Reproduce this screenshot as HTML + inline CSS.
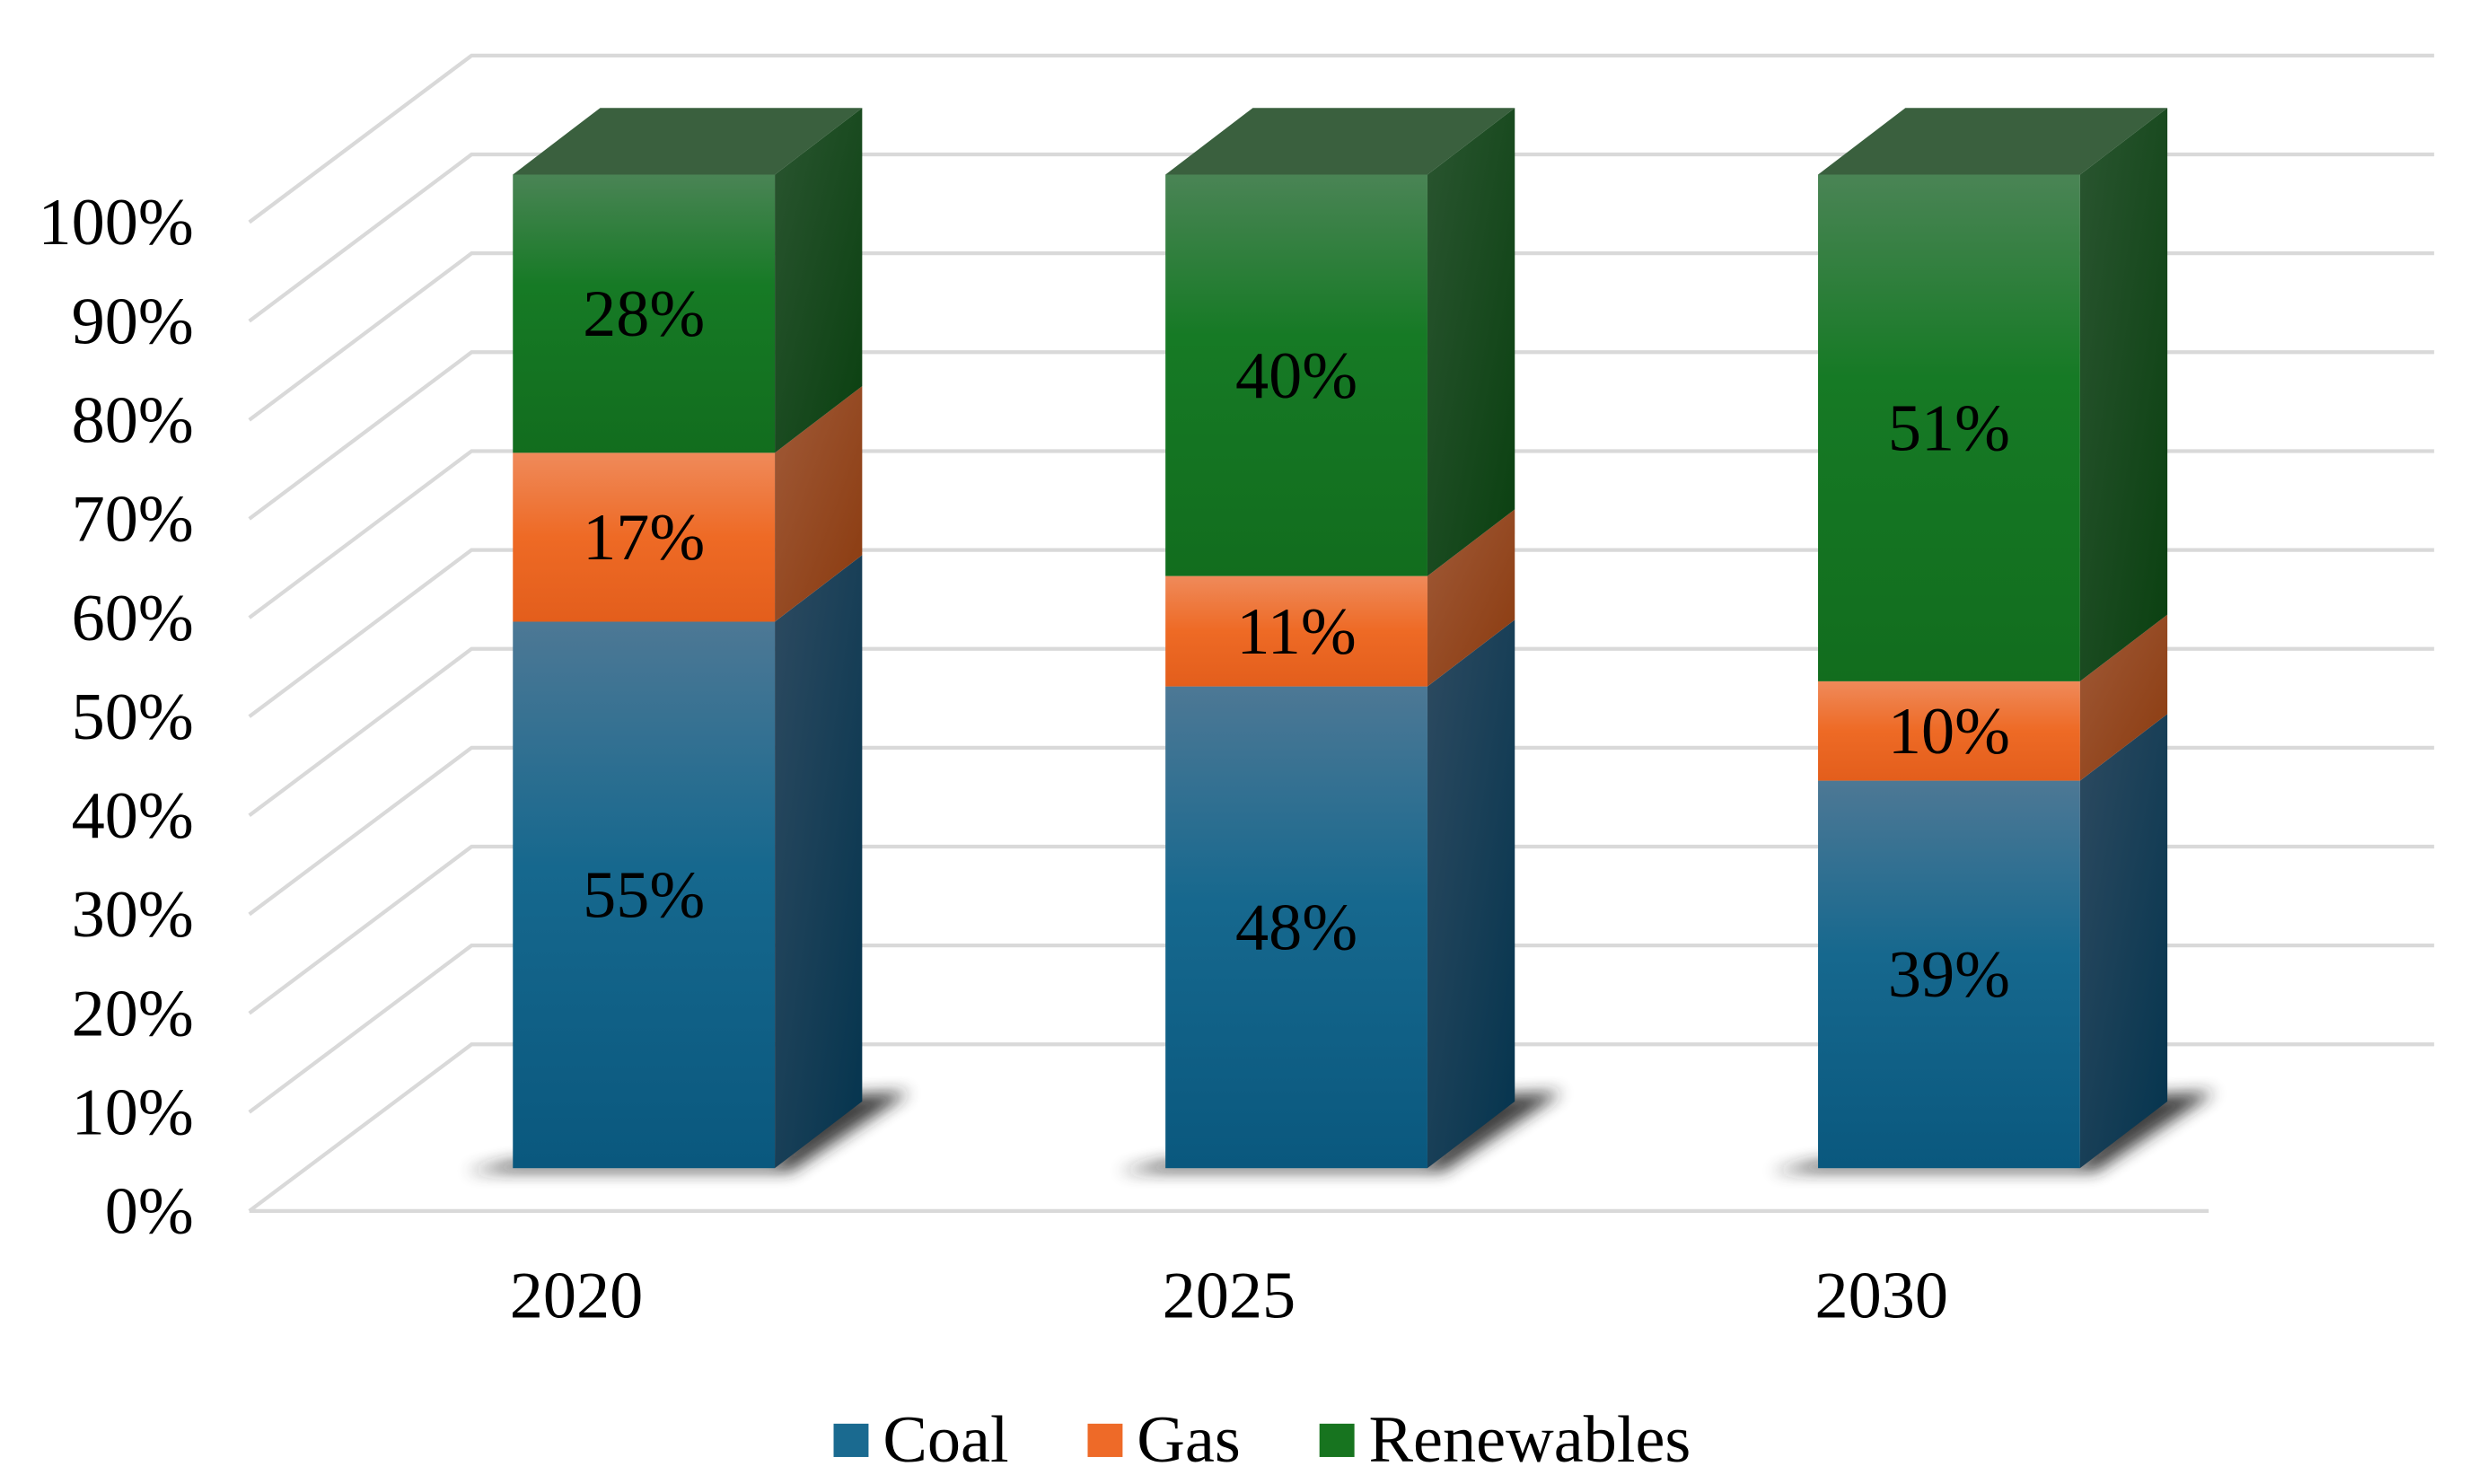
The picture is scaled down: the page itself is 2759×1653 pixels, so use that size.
<!DOCTYPE html>
<html><head><meta charset="utf-8"><style>
html,body{margin:0;padding:0;background:#fff;}
svg{display:block;}
text{font-family:"Liberation Serif",serif;fill:#000;}
</style></head><body>
<svg id="chart" width="2759" height="1653" viewBox="0 0 1560 935" preserveAspectRatio="none" xmlns="http://www.w3.org/2000/svg">
<defs>
<linearGradient id="coalF" x1="0" y1="0" x2="0" y2="1"><stop offset="0" stop-color="#4d7895"/><stop offset="0.45" stop-color="#16688e"/><stop offset="1" stop-color="#0a587e"/></linearGradient>
<linearGradient id="coalS" x1="0" y1="0" x2="1" y2="1"><stop offset="0" stop-color="#2d4a60"/><stop offset="1" stop-color="#04344e"/></linearGradient>
<linearGradient id="gasF" x1="0" y1="0" x2="0" y2="1"><stop offset="0" stop-color="#ef8a5a"/><stop offset="0.5" stop-color="#ee6a25"/><stop offset="1" stop-color="#e35e1c"/></linearGradient>
<linearGradient id="gasS" x1="0" y1="0" x2="1" y2="1"><stop offset="0" stop-color="#a05a38"/><stop offset="1" stop-color="#8a3a0e"/></linearGradient>
<linearGradient id="renF" x1="0" y1="0" x2="0" y2="1"><stop offset="0" stop-color="#4a8455"/><stop offset="0.4" stop-color="#167a25"/><stop offset="1" stop-color="#126d1e"/></linearGradient>
<linearGradient id="renS" x1="0" y1="0" x2="1" y2="1"><stop offset="0" stop-color="#2a5530"/><stop offset="1" stop-color="#0a4010"/></linearGradient>
<filter id="blur" x="-20%" y="-50%" width="140%" height="200%"><feGaussianBlur stdDeviation="5"/></filter>
</defs>
<g id="grid"></g>
<g id="bars"></g>
<g id="labels"></g>
</svg>
<script>
const categories = ["2020","2025","2030"];
const coal = [55,48,39];
const gas = [17,11,10];
const renewables = [28,40,51];
const yTicks = [0,10,20,30,40,50,60,70,80,90,100];
const seriesNames = ["Coal","Gas","Renewables"];

const NS="http://www.w3.org/2000/svg";
const G=document.getElementById('grid'),B=document.getElementById('bars'),L=document.getElementById('labels');
function el(tag,attrs,parent){const e=document.createElementNS(NS,tag);for(const k in attrs)e.setAttribute(k,attrs[k]);parent.appendChild(e);return e;}
const front0=763, backDX=140, backDY=-105, gridStep=62.3;
function yGrid(v){return front0 - v/10*gridStep;}
const barBase=736, barScale=6.26;
function yBar(v){return barBase - v*barScale;}
function xBar(i){return 323 + i*411;}
const barW=165, dX=55, dY=-42;

yTicks.forEach(v=>{
  const y=yGrid(v);
  const d=el('path',{d:`M157 ${y} L${157+backDX} ${y+backDY} L1533 ${y+backDY}`,fill:'none',stroke:'#d9d9d9','stroke-width':2.4},G);
  
  
  const t=el('text',{x:122,y:y+14,'text-anchor':'end','font-size':42},G);
  t.textContent=v+'%';
  
  
});
const fl=el('line',{x1:157,y1:front0,x2:1391,y2:front0,stroke:'#d9d9d9','stroke-width':2.4},G);



const series=[{n:'coal',v:coal,f:'url(#coalF)',s:'url(#coalS)'},{n:'gas',v:gas,f:'url(#gasF)',s:'url(#gasS)'},{n:'renewables',v:renewables,f:'url(#renF)',s:'url(#renS)'}];
categories.forEach((c,i)=>{
  const x=xBar(i);
  const total=coal[i]+gas[i]+renewables[i];
  const sh=el('polygon',{points:`${x-30},${barBase+2} ${x+barW+10},${barBase+2} ${x+barW+dX+30},${barBase+dY-6} ${x+barW+dX-20},${barBase+dY-4} ${x+barW},${barBase-4} ${x},${barBase-4}`,fill:'#222',filter:'url(#blur)',opacity:0.85},B);
  
  
  let cum=0;
  series.forEach((s,k)=>{
    const v=s.v[i];const p=v/total*100;
    const y0=yBar(cum),y1=yBar(cum+p);cum+=p;
    const r=el('rect',{x:x,y:y1,width:barW,height:y0-y1,fill:s.f},B);
    
    
    const sd=el('polygon',{points:`${x+barW},${y1} ${x+barW+dX},${y1+dY} ${x+barW+dX},${y0+dY} ${x+barW},${y0}`,fill:s.s},B);
    
    
    if(k===series.length-1){
      const tp=el('polygon',{points:`${x},${y1} ${x+dX},${y1+dY} ${x+barW+dX},${y1+dY} ${x+barW},${y1}`,fill:'#3a603e'},B);
      
      
    }
    const t=el('text',{x:x+barW/2,y:(y0+y1)/2+14,'text-anchor':'middle','font-size':42},L);
    t.textContent=v+'%';
    
    
  });
  const ct=el('text',{x:x+40,y:830,'text-anchor':'middle','font-size':42},L);
  ct.textContent=c;
  
  
});
const legX=[525,685,831], legF=['#1a6a90','#ee6a28','#17741f'];
seriesNames.forEach((n,k)=>{
  const g=el('g',{},L);
  
  
  el('rect',{x:legX[k],y:897,width:22,height:21,fill:legF[k]},g);
  const t=el('text',{x:legX[k]+31,y:921,'font-size':42},g);
  t.textContent=n;
});
</script>
</body></html>
